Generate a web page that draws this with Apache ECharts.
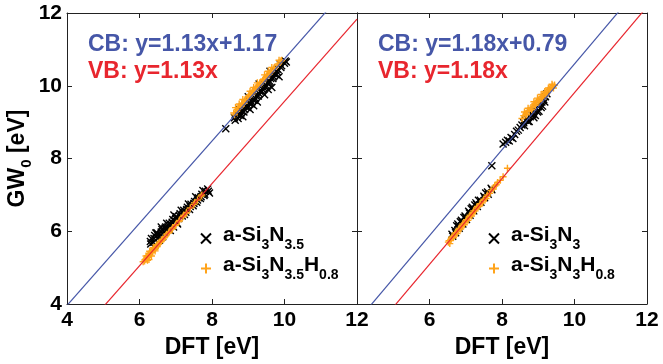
<!DOCTYPE html>
<html>
<head>
<meta charset="utf-8">
<script src="https://cdn.jsdelivr.net/npm/echarts@6/dist/echarts.min.js"></script>
<style>
  html, body { margin: 0; padding: 0; background: #fff; }
  #main { width: 663px; height: 364px; }
</style>
</head>
<body>
<div id="main"></div>
<script>
// tick labels shared by both panels
var ticks = [4, 6, 8, 10, 12];

// fit lines (end points, clipped by the grid)
var leftCB = [[4, 3.96], [12, 13.0]];
var leftVB = [[4, 2.79], [12, 11.83]];
var rightCB = [[4, 3.52], [12, 12.96]];
var rightVB = [[4, 2.73], [12, 12.17]];

// left panel, a-Si3N3.5 (black x)
var leftBlack = [
  [6.30,5.72],[6.33,5.80],[6.31,5.65],[6.40,5.80],[6.42,5.88],[6.38,5.70],
  [6.50,5.90],[6.48,5.96],[6.52,5.82],[6.55,5.75],[6.60,5.98],[6.62,6.05],
  [6.58,5.90],[6.64,5.85],[6.70,6.08],[6.72,6.12],[6.68,5.98],[6.74,6.02],
  [6.80,6.15],[6.82,6.22],[6.78,6.08],[6.90,6.25],[6.92,6.32],[6.88,6.18],
  [6.94,6.12],[7.00,6.35],[7.02,6.40],[6.98,6.28],[7.04,6.22],[7.10,6.42],
  [7.12,6.48],[7.08,6.35],[7.20,6.50],[7.22,6.58],[7.18,6.42],[7.24,6.46],
  [7.30,6.60],[7.32,6.66],[7.28,6.52],[7.40,6.68],[7.42,6.74],[7.38,6.60],
  [7.50,6.76],[7.52,6.82],[7.48,6.70],[7.60,6.86],[7.62,6.92],[7.58,6.80],
  [7.70,6.95],[7.72,7.02],[7.68,6.90],[7.80,7.02],[7.82,7.10],[7.78,6.98],
  [7.90,7.10],[7.93,7.05],[7.88,7.16],
  [6.45,5.95],[6.60,6.12],[6.75,6.22],[6.95,6.45],[7.15,6.58],[7.35,6.75],
  [7.55,6.95],[7.75,7.12],[6.85,6.02],[7.05,6.20],
  [8.38,8.82],
  [8.62,9.12],[8.64,9.05],[8.70,9.20],[8.72,9.10],[8.75,9.35],[8.80,9.25],
  [8.82,9.30],[8.78,9.18],[8.90,9.35],[8.92,9.42],[8.88,9.28],[9.00,9.45],
  [9.02,9.52],[8.98,9.40],[9.00,9.70],[9.10,9.55],[9.12,9.62],[9.08,9.50],
  [9.20,9.65],[9.22,9.72],[9.18,9.60],[9.30,9.78],[9.32,9.85],[9.28,9.72],
  [9.30,10.05],[9.40,9.90],[9.42,9.95],[9.38,9.84],[9.50,10.00],[9.52,10.08],
  [9.48,9.95],[9.60,10.12],[9.62,10.20],[9.58,10.08],[9.60,10.40],[9.70,10.25],
  [9.72,10.32],[9.68,10.20],[9.80,10.38],[9.82,10.45],[9.78,10.30],[9.90,10.50],
  [9.92,10.55],[9.88,10.60],[10.00,10.62],[10.02,10.68],[10.05,10.65],
  [8.85,9.15],[9.05,9.35],[9.25,9.55],[9.45,9.75],[9.65,9.95],[9.85,10.25],
  [9.55,9.90],[9.15,9.45]
];

// left panel, a-Si3N3.5H0.8 (orange +)
var leftOrange = [
  [6.10,5.16],[6.15,5.22],[6.14,5.18],[6.20,5.28],[6.19,5.24],[6.22,5.32],
  [6.25,5.33],[6.27,5.38],[6.24,5.28],[6.30,5.40],[6.29,5.36],[6.32,5.44],
  [6.35,5.45],[6.37,5.50],[6.34,5.42],[6.40,5.50],[6.42,5.55],[6.45,5.56],
  [6.47,5.60],[6.44,5.52],[6.50,5.62],[6.49,5.58],[6.52,5.66],[6.60,5.72],
  [6.62,5.76],[6.70,5.85],[6.68,5.82],[6.80,5.95],[6.82,5.98],[6.90,6.06],
  [6.92,6.10],[7.00,6.18],[6.99,6.16],[7.10,6.30],[7.09,6.27],[7.20,6.40],
  [7.22,6.44],[7.30,6.52],[7.29,6.50],[7.40,6.64],[7.50,6.74],[7.52,6.78],
  [7.60,6.86],[7.70,6.97],[7.72,7.00],
  [6.18,5.32],[6.22,5.20],[6.28,5.45],[6.33,5.32],[6.38,5.55],[6.43,5.46],
  [6.26,5.22],[6.55,5.70],[6.65,5.78],[6.75,5.92],
  [8.60,9.25],[8.62,9.20],[8.70,9.35],[8.68,9.30],[8.72,9.40],[8.80,9.45],
  [8.82,9.50],[8.78,9.42],[8.90,9.58],[8.92,9.62],[8.88,9.52],[9.00,9.70],
  [9.02,9.74],[8.98,9.66],[9.10,9.80],[9.12,9.85],[9.08,9.76],[9.20,9.92],
  [9.22,9.96],[9.18,9.88],[9.30,10.03],[9.32,10.08],[9.28,9.99],[9.40,10.14],
  [9.42,10.18],[9.38,10.10],[9.50,10.25],[9.52,10.28],[9.48,10.22],[9.60,10.36],
  [9.62,10.40],[9.58,10.32],[9.70,10.46],[9.72,10.50],[9.80,10.56],[9.82,10.60],
  [9.90,10.68],[9.92,10.70],
  [8.65,9.40],[8.85,9.62],[9.05,9.85],[9.25,10.08],[9.45,10.30],[9.65,10.50],
  [9.85,10.70],[8.75,9.50],[9.15,9.95],[9.55,10.40]
];

// right panel, a-Si3N3 (black x)
var rightBlack = [
  [6.62,5.92],[6.64,5.86],[6.70,6.02],[6.72,5.96],[6.80,6.14],[6.82,6.08],
  [6.78,6.20],[6.90,6.26],[6.92,6.20],[6.88,6.30],[7.00,6.38],[7.02,6.32],
  [6.98,6.42],[7.10,6.50],[7.12,6.44],[7.08,6.55],[7.20,6.62],[7.22,6.56],
  [7.18,6.66],[7.30,6.74],[7.32,6.68],[7.28,6.78],[7.40,6.85],[7.42,6.80],
  [7.50,6.96],[7.52,6.92],[7.60,7.08],[7.62,7.02],[7.70,7.18],[7.72,7.14],
  [6.75,6.15],[6.95,6.38],[7.15,6.62],[7.35,6.85],[7.55,7.05],[6.85,6.26],
  [7.25,6.72],
  [7.72,7.80],
  [8.03,8.40],[8.10,8.45],[8.20,8.48],[8.25,8.58],[8.35,8.66],[8.40,8.75],
  [8.50,8.85],[8.55,8.92],[8.60,8.98],[8.65,9.05],[8.70,9.10],[8.72,9.02],
  [8.78,9.15],[8.80,9.22],[8.85,9.20],[8.90,9.32],[8.95,9.38],[9.00,9.42],
  [9.05,9.50],[9.10,9.55],[9.15,9.62],[9.20,9.70],[9.24,9.78],[8.88,9.12],
  [8.98,9.28],[9.08,9.40],
  [8.45,8.78],[8.62,8.90],[8.75,9.02],[8.92,9.18],[9.02,9.30],[9.12,9.44],
  [9.18,9.55],[8.30,8.55],[8.15,8.50]
];

// right panel, a-Si3N3H0.8 (orange +)
var rightOrange = [
  [6.52,5.70],[6.54,5.74],[6.60,5.80],[6.62,5.84],[6.58,5.76],[6.70,5.92],
  [6.72,5.96],[6.68,5.88],[6.80,6.04],[6.82,6.08],[6.78,6.00],[6.90,6.16],
  [6.92,6.20],[6.88,6.12],[7.00,6.28],[7.02,6.32],[6.98,6.24],[7.10,6.40],
  [7.12,6.44],[7.20,6.52],[7.22,6.56],[7.18,6.48],[7.30,6.64],[7.32,6.68],
  [7.40,6.76],[7.38,6.72],[7.50,6.88],[7.48,6.84],[7.60,7.00],[7.58,6.96],
  [7.70,7.12],[7.80,7.24],[7.88,7.34],[7.95,7.40],[8.03,7.50],[8.15,7.73],
  [6.56,5.66],[6.66,5.82],[6.76,5.94],[6.86,6.06],[6.96,6.18],[7.06,6.30],
  [7.16,6.42],[7.26,6.56],[7.36,6.68],[7.46,6.78],[7.56,6.90],[7.66,7.04],
  [7.76,7.16],[7.84,7.28],
  [8.55,9.10],[8.60,9.18],[8.65,9.22],[8.70,9.30],[8.75,9.32],[8.80,9.40],
  [8.85,9.44],[8.90,9.50],[8.95,9.55],[9.00,9.60],[9.05,9.64],[9.10,9.70],
  [9.15,9.75],[9.20,9.80],[9.25,9.86],[9.30,9.90],[9.35,9.95],[9.40,10.00],
  [9.45,10.02],[8.68,9.20],[8.82,9.34],[8.92,9.46],[9.02,9.56],[9.12,9.66],
  [9.22,9.76],[9.32,9.88],
  [8.62,9.28],[8.72,9.38],[8.88,9.56],[8.98,9.66],[9.08,9.76],[9.18,9.84],
  [9.28,9.94],[9.38,10.04],[9.42,9.94],[9.20,9.72]
];

var FONT = '"Liberation Sans", Arial, sans-serif';
var BLUE = '#4657a8';
var RED = '#e8262e';
var ORANGE = '#ffa31a';
var CROSS = 'path://M0,0L10,10M10,0L0,10';
var PLUS = 'path://M5,0L5,10M0,5L10,5';

var legendRich = {
  f: { fontSize: 21, fontWeight: 'bold', fontFamily: FONT, color: '#000', lineHeight: 21, verticalAlign: 'top', padding: [0, 0, 0, 7] },
  a: { fontSize: 21, fontWeight: 'bold', fontFamily: FONT, color: '#000', lineHeight: 21, verticalAlign: 'top' },
  s: { fontSize: 14, fontWeight: 'bold', fontFamily: FONT, color: '#000', lineHeight: 27, verticalAlign: 'bottom' }
};
var legendText = {
  'a-Si3N3.5': '{f|a-Si}{s|3}{a|N}{s|3.5}',
  'a-Si3N3.5H0.8': '{f|a-Si}{s|3}{a|N}{s|3.5}{a|H}{s|0.8}',
  'a-Si3N3': '{f|a-Si}{s|3}{a|N}{s|3}',
  'a-Si3N3H0.8': '{f|a-Si}{s|3}{a|N}{s|3}{a|H}{s|0.8}'
};

function frameAxis(grid, pos, labels, extra) {
  var ax = {
    type: 'value', gridIndex: grid, position: pos,
    min: 4, max: 12, interval: 2,
    axisLine: { show: true, onZero: false, lineStyle: { color: '#222', width: 1 } },
    axisTick: { show: true, inside: true, length: 5, lineStyle: { color: '#222' } },
    splitLine: { show: false },
    axisLabel: { show: labels, fontSize: 21, fontWeight: 'bold', fontFamily: FONT, color: '#000' }
  };
  return Object.assign(ax, extra || {});
}

function lineSeries(data, x, y, color) {
  return {
    type: 'line', data: data, xAxisIndex: x, yAxisIndex: y,
    symbol: 'none', clip: true, silent: true,
    lineStyle: { color: color, width: 1.2 }
  };
}

function scatterSeries(name, data, x, y, sym, color) {
  return {
    type: 'scatter', name: name, data: data, xAxisIndex: x, yAxisIndex: y,
    symbol: sym, symbolSize: 7,
    itemStyle: { color: 'rgba(0,0,0,0)', borderColor: color, borderWidth: 1.4, opacity: 1 }
  };
}

var xName = {
  name: 'DFT [eV]', nameLocation: 'middle', nameGap: 22,
  nameTextStyle: { fontSize: 23, fontWeight: 'bold', fontFamily: FONT, color: '#000' }
};

var chart = echarts.init(document.getElementById('main'), null, { renderer: 'canvas' });
chart.setOption({
  backgroundColor: '#fff',
  animation: false,
  grid: [
    { left: 67, top: 13, width: 290, height: 291 },
    { left: 357, top: 13, width: 290, height: 291 }
  ],
  xAxis: [
    frameAxis(0, 'bottom', true, Object.assign({ axisLabel: { show: true, margin: 6, fontSize: 21, fontWeight: 'bold', fontFamily: FONT, color: '#000' } }, xName)),
    frameAxis(0, 'top', false),
    frameAxis(1, 'bottom', true, Object.assign({ axisLabel: { show: true, showMinLabel: false, margin: 6, fontSize: 21, fontWeight: 'bold', fontFamily: FONT, color: '#000' } }, xName)),
    frameAxis(1, 'top', false)
  ],
  yAxis: [
    frameAxis(0, 'left', true, {
      axisLabel: { show: true, margin: 5, fontSize: 21, fontWeight: 'bold', fontFamily: FONT, color: '#000' },
      name: '{g|GW}{s|0}{g| [eV]}', nameLocation: 'middle', nameGap: 21, nameRotate: 90,
      nameTextStyle: {
        rich: {
          g: { fontSize: 23, fontWeight: 'bold', fontFamily: FONT, color: '#000', lineHeight: 23, verticalAlign: 'top' },
          s: { fontSize: 15, fontWeight: 'bold', fontFamily: FONT, color: '#000', lineHeight: 29, verticalAlign: 'bottom' }
        }
      }
    }),
    frameAxis(0, 'right', false),
    frameAxis(1, 'left', false),
    frameAxis(1, 'right', false)
  ],
  legend: [
    {
      orient: 'vertical', left: 195, top: 220, itemWidth: 10, itemHeight: 10, itemGap: 3,
      data: ['a-Si3N3.5', 'a-Si3N3.5H0.8'],
      formatter: function (n) { return legendText[n]; },
      textStyle: { rich: legendRich }, selectedMode: false
    },
    {
      orient: 'vertical', left: 483, top: 220, itemWidth: 10, itemHeight: 10, itemGap: 3,
      data: ['a-Si3N3', 'a-Si3N3H0.8'],
      formatter: function (n) { return legendText[n]; },
      textStyle: { rich: legendRich }, selectedMode: false
    }
  ],
  graphic: [
    { type: 'text', x: 88, y: 45, style: { text: 'CB: y=1.13x+1.17', font: 'bold 23px ' + FONT, fill: BLUE, verticalAlign: 'middle' } },
    { type: 'text', x: 88, y: 72, style: { text: 'VB: y=1.13x', font: 'bold 23px ' + FONT, fill: RED, verticalAlign: 'middle' } },
    { type: 'text', x: 378, y: 45, style: { text: 'CB: y=1.18x+0.79', font: 'bold 23px ' + FONT, fill: BLUE, verticalAlign: 'middle' } },
    { type: 'text', x: 378, y: 72, style: { text: 'VB: y=1.18x', font: 'bold 23px ' + FONT, fill: RED, verticalAlign: 'middle' } }
  ],
  series: [
    lineSeries(leftCB, 0, 0, BLUE),
    lineSeries(leftVB, 0, 0, RED),
    lineSeries(rightCB, 2, 2, BLUE),
    lineSeries(rightVB, 2, 2, RED),
    scatterSeries('a-Si3N3.5', leftBlack, 0, 0, CROSS, '#000'),
    scatterSeries('a-Si3N3.5H0.8', leftOrange, 0, 0, PLUS, ORANGE),
    scatterSeries('a-Si3N3', rightBlack, 2, 2, CROSS, '#000'),
    scatterSeries('a-Si3N3H0.8', rightOrange, 2, 2, PLUS, ORANGE)
  ]
});
</script>
</body>
</html>
